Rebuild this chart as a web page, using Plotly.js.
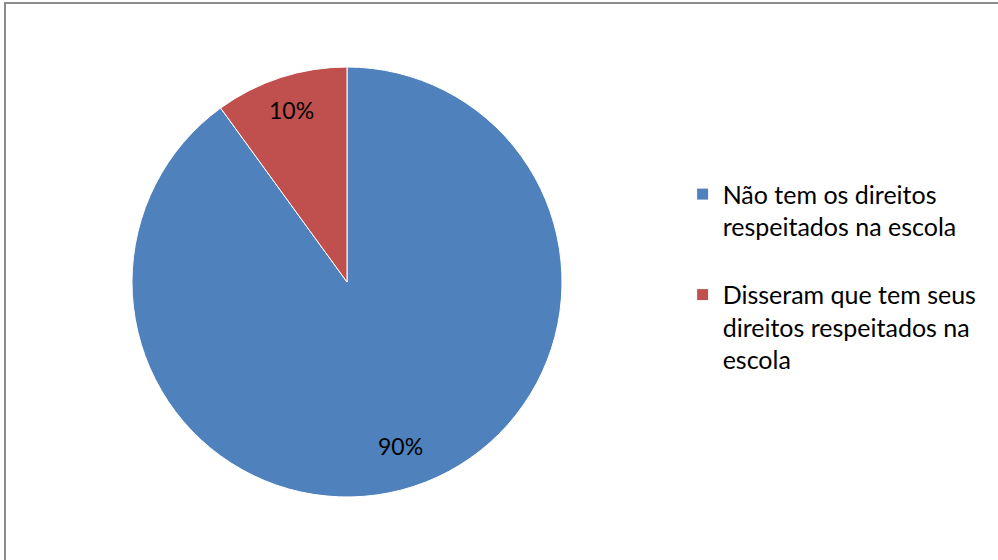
<!DOCTYPE html>
<html>
<head>
<meta charset="utf-8">
<script src="https://cdn.plot.ly/plotly-3.0.1.min.js"></script>
<style>html,body{margin:0;padding:0;background:#fff;}#chart{width:998px;height:560px;}</style>
</head>
<body>
<div id="chart"></div>
<script>
const labels = ["Não tem os direitos<br>respeitados na escola<br>&nbsp;", "Disseram que tem seus<br>direitos respeitados na<br>escola"];
const values = [90, 10];
const colors = ["#4F81BD", "#C0504D"];
const pctLabels = ["90%", "10%"];
const labelRadius = [0.80, 0.84];

const W = 998, H = 560;
const cx = 347, cy = 282, r = 215;
const FONT = "Lato, 'Liberation Sans', sans-serif";

const trace = {
  type: "pie",
  labels: labels,
  values: values,
  sort: false,
  direction: "clockwise",
  rotation: 0,
  marker: {colors: colors, line: {color: "#ffffff", width: 1}},
  textinfo: "none",
  hoverinfo: "label+percent",
  domain: {x: [(cx - r) / W, (cx + r) / W], y: [(H - cy - r) / H, (H - cy + r) / H]}
};

// data labels placed at each slice's mid-angle
const total = values.reduce((a, b) => a + b, 0);
let cum = 0;
const annotations = values.map((v, i) => {
  const mid = (cum + v / 2) / total * 2 * Math.PI;
  cum += v;
  const px = cx + labelRadius[i] * r * Math.sin(mid);
  const py = cy - labelRadius[i] * r * Math.cos(mid);
  return {
    xref: "paper", yref: "paper", x: px / W, y: 1 - py / H,
    xanchor: "center", yanchor: "middle", showarrow: false,
    text: pctLabels[i], font: {family: FONT, size: 23, color: "#000000"}
  };
});

const layout = {
  width: W, height: H,
  margin: {l: 0, r: 0, t: 0, b: 0},
  paper_bgcolor: "#ffffff",
  showlegend: true,
  legend: {
    x: 0.684, y: 0.694, xanchor: "left", yanchor: "top",
    valign: "top",
    font: {family: FONT, size: 25, color: "#000000"},
    bgcolor: "rgba(0,0,0,0)"
  },
  annotations: annotations,
  shapes: [{
    type: "rect", xref: "paper", yref: "paper",
    x0: 5 / W, x1: 1.1, y0: -0.1, y1: 1 - 3 / H,
    line: {color: "#8c8c8c", width: 2}, fillcolor: "rgba(0,0,0,0)", layer: "below"
  }]
};

Plotly.newPlot("chart", [trace], layout, {displayModeBar: false, staticPlot: true});
</script>
</body>
</html>
